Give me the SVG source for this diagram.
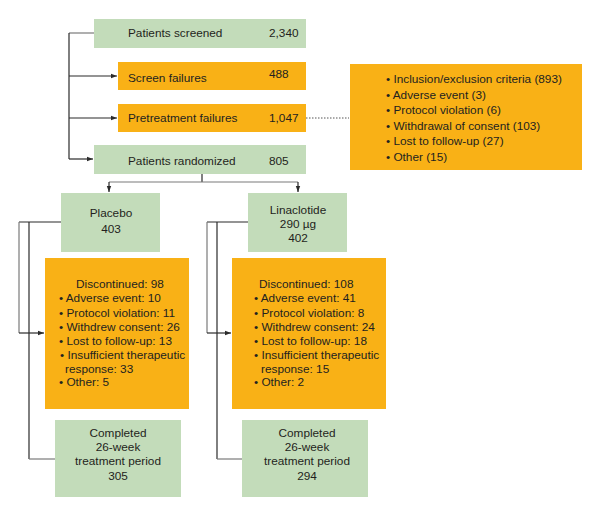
<svg xmlns="http://www.w3.org/2000/svg" width="594" height="514" viewBox="0 0 594 514">
<style>
text{font-family:"Liberation Sans",Arial,sans-serif;font-size:11.8px;fill:#231f20}
.g{fill:#c3dcba}
.o{fill:#f9b116}
.c{text-anchor:middle}
.ln{fill:none;stroke:#2b2b2b;stroke-width:1.2}
.lg{fill:none;stroke:#7a7a7a;stroke-width:1.2}
</style>
<defs>
<marker id="ah" viewBox="0 0 6 6" refX="6" refY="3" markerWidth="6" markerHeight="6" orient="auto" markerUnits="userSpaceOnUse">
<path d="M0,0.8 L6,3 L0,5.2 Z" fill="#2b2b2b"/>
</marker>
</defs>
<rect width="594" height="514" fill="#fff"/>
<g id="connectors">
<path class="lg" d="M94,33 H69"/>
<path class="ln" d="M69,33 V159"/>
<path class="ln" d="M69,76 H117" marker-end="url(#ah)"/>
<path class="ln" d="M69,118 H117" marker-end="url(#ah)"/>
<path class="ln" d="M69,159 H93" marker-end="url(#ah)"/>
<path d="M306,118 H349" fill="none" stroke="#555" stroke-width="1" stroke-dasharray="1.5,1.5"/>
<path class="ln" d="M202,174 V182"/>
<path class="lg" d="M109,182 H298"/>
<path class="ln" d="M109,182 V192" marker-end="url(#ah)"/>
<path class="ln" d="M298,182 V192" marker-end="url(#ah)"/>
<path class="ln" d="M61,222 H19"/>
<path class="lg" d="M19,222 V333"/>
<path class="ln" d="M19,333 H44" marker-end="url(#ah)"/>
<path class="ln" d="M29,222 V459"/>
<path class="lg" d="M29,459 H55"/>
<path class="ln" d="M248,222 H207"/>
<path class="lg" d="M207,222 V333"/>
<path class="ln" d="M207,333 H231" marker-end="url(#ah)"/>
<path class="ln" d="M217,222 V459"/>
<path class="lg" d="M217,459 H242"/>
</g>
<g id="screened">
<rect class="g" x="94" y="19" width="212" height="29"/>
<text x="128" y="37">Patients screened</text>
<text x="269" y="37">2,340</text>
</g>
<g id="screen-failures">
<rect class="o" x="118" y="62" width="188" height="28"/>
<text x="128" y="81.5">Screen failures</text>
<text x="269" y="78">488</text>
</g>
<g id="pretreatment-failures">
<rect class="o" x="118" y="104" width="188" height="28"/>
<text x="128" y="122">Pretreatment failures</text>
<text x="269" y="122">1,047</text>
</g>
<g id="randomized">
<rect class="g" x="94" y="145" width="212" height="29"/>
<text x="128" y="165">Patients randomized</text>
<text x="269" y="165">805</text>
</g>
<g id="reasons">
<rect class="o" x="350" y="64" width="232" height="106"/>
<text x="386" y="83">• Inclusion/exclusion criteria (893)</text>
<text x="386" y="98.5">• Adverse event (3)</text>
<text x="386" y="114">• Protocol violation (6)</text>
<text x="386" y="129.5">• Withdrawal of consent (103)</text>
<text x="386" y="145">• Lost to follow-up (27)</text>
<text x="386" y="160.5">• Other (15)</text>
</g>
<g id="placebo">
<rect class="g" x="61" y="193" width="99" height="59"/>
<text class="c" x="111" y="217">Placebo</text>
<text class="c" x="111" y="232.5">403</text>
</g>
<g id="linaclotide">
<rect class="g" x="248" y="193" width="99" height="59"/>
<text class="c" x="298" y="213.5">Linaclotide</text>
<text class="c" x="298" y="227.5">290 µg</text>
<text class="c" x="298" y="241.5">402</text>
</g>
<g id="placebo-discontinued">
<rect class="o" x="45" y="258" width="144" height="151"/>
<text class="c" x="120" y="288">Discontinued: 98</text>
<text x="59" y="302">• Adverse event: 10</text>
<text x="59" y="316.5">• Protocol violation: 11</text>
<text x="59" y="330.5">• Withdrew consent: 26</text>
<text x="59" y="344.5">• Lost to follow-up: 13</text>
<text x="60" y="358.5">• Insufficient therapeutic</text>
<text x="65" y="372.5">response: 33</text>
<text x="59" y="386">• Other: 5</text>
</g>
<g id="linaclotide-discontinued">
<rect class="o" x="232" y="258" width="154" height="151"/>
<text x="259" y="288">Discontinued: 108</text>
<text x="254" y="302">• Adverse event: 41</text>
<text x="254" y="316.5">• Protocol violation: 8</text>
<text x="254" y="330.5">• Withdrew consent: 24</text>
<text x="254" y="344.5">• Lost to follow-up: 18</text>
<text x="254" y="358.5">• Insufficient therapeutic</text>
<text x="261" y="372.5">response: 15</text>
<text x="254" y="386">• Other: 2</text>
</g>
<g id="placebo-completed">
<rect class="g" x="55" y="420" width="126" height="77"/>
<text class="c" x="118" y="437">Completed</text>
<text class="c" x="118" y="451">26-week</text>
<text class="c" x="118" y="465">treatment period</text>
<text class="c" x="118" y="479.5">305</text>
</g>
<g id="linaclotide-completed">
<rect class="g" x="242" y="420" width="126" height="77"/>
<text class="c" x="307" y="437">Completed</text>
<text class="c" x="307" y="451">26-week</text>
<text class="c" x="307" y="465">treatment period</text>
<text class="c" x="307" y="479.5">294</text>
</g>
</svg>
